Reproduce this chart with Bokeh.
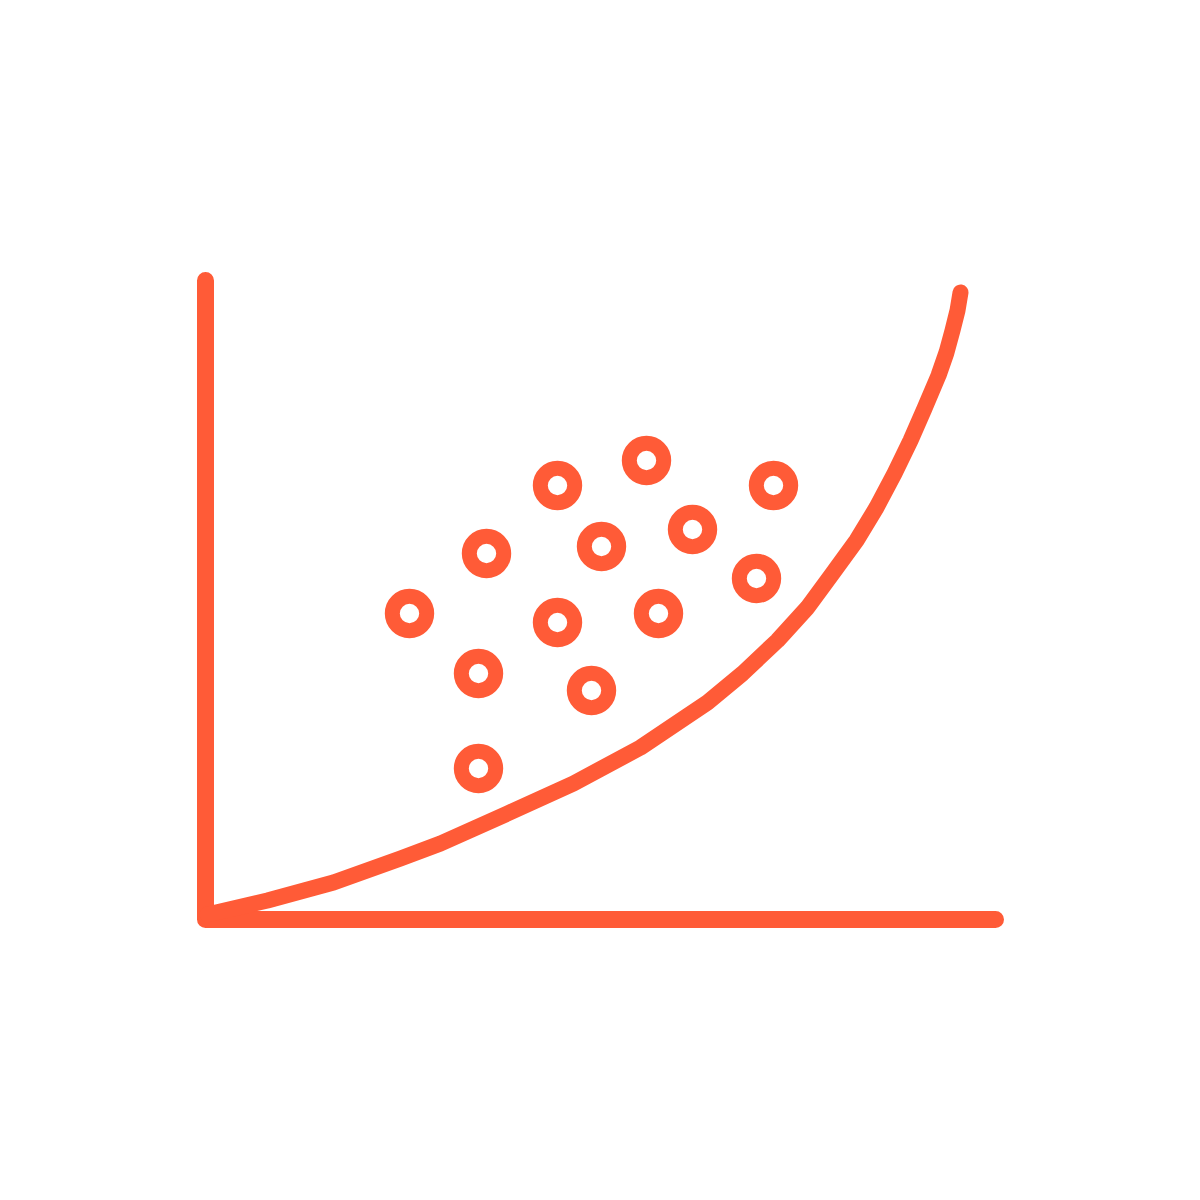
from bokeh.plotting import figure
from bokeh.models import Range1d
from bokeh.embed import file_html
from bokeh.resources import INLINE

COLOR = "#FF5B37"

# Scatter points (chart units, origin at the axes corner)
point_x = [204, 281, 352, 441, 568, 396, 487, 551, 352, 453, 273, 386, 273]
point_y = [306, 366, 434, 459, 434, 373, 390, 341, 297, 306, 246, 229, 151]

# Trend curve
curve_x = [2, 62, 128, 195, 235, 302, 368, 435, 502, 537, 572, 602, 627, 651, 671, 689, 705, 719, 733, 741, 747, 752, 755]
curve_y = [5, 19, 37, 61, 76, 106, 136, 172, 217, 246, 279, 312, 346, 379, 412, 446, 479, 511, 544, 567, 589, 609, 627]

# Axes extents
axis_x = [0, 0, 790]
axis_y = [639, 0, 0]

p = figure(width=1184, height=1184, output_backend="svg", toolbar_location=None,
           x_range=Range1d(-205, 979), y_range=Range1d(-265, 919),
           min_border=0)
p.axis.visible = False
p.grid.visible = False
p.outline_line_color = None
p.background_fill_color = "white"
p.border_fill_color = "white"

p.line(axis_x, axis_y, line_color=COLOR, line_width=17, line_cap="round", line_join="round")
p.line(curve_x, curve_y, line_color=COLOR, line_width=16, line_cap="round", line_join="round")
p.circle(point_x, point_y, radius=17.2, fill_color="white", line_color=COLOR, line_width=15)

open("out.html", "w").write(file_html(p, INLINE))
